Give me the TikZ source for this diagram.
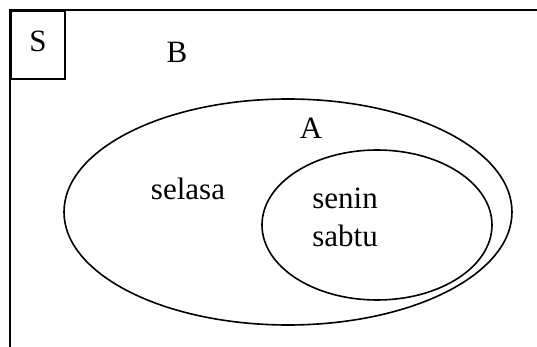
\documentclass[tikz,border=0pt]{standalone}
\usepackage{fontspec}
\setmainfont{Liberation Serif}
\usepackage{tikz}
\usetikzlibrary{
    positioning,
    shapes.geometric
}

\begin{document}
\begin{tikzpicture}[
            x=0.5pt,
            y=-0.5pt,
            frame/.style={
                line width=1pt
            },
            set/.style={
                draw,
                ellipse,
                inner sep=0pt,
                line width=0.8pt
            },
            setlabel/.style={
                font=\fontsize{15.5}{19}\selectfont,
                inner sep=0pt,
                anchor=base
            }
            ]

            \useasboundingbox (0,0) rectangle (537,347);

            % universe (only top and left edges show)
            \coordinate (top) at (537,10);
            \coordinate (corner) at (10,10);
            \coordinate (bottom) at (10,347);
            \draw[frame] (top) -- (corner) -- (bottom);

            \node[draw, line width=1pt, minimum width=27pt, minimum height=34pt,
                anchor=north west] (sbox) at (corner) {};
            \node[setlabel] (slabel) at (38,52) {S};
            \node[setlabel] (blabel) at (177,63) {B};

            % sets
            \node[set, minimum width=224pt, minimum height=113pt] (setb) at (288,212) {};
            \node[set, minimum width=115pt, minimum height=75pt] (seta) at (377,225) {};

            \node[setlabel] (alabel) at (311,139) {A};
            \node[setlabel] (selasa) at (188,200) {selasa};
            \node[setlabel, anchor=base west] (senin) at (312,209) {senin};
            \node[setlabel, anchor=base west] (sabtu) at (312,247) {sabtu};

        \end{tikzpicture}
\end{document}
